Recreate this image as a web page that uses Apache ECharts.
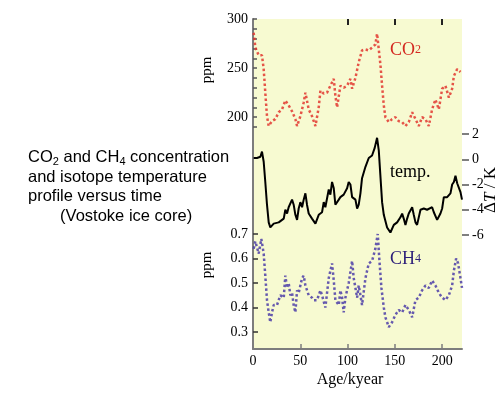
<!DOCTYPE html>
<html>
<head>
<meta charset="utf-8">
<script src="https://cdn.jsdelivr.net/npm/echarts@6/dist/echarts.min.js"></script>
<style>
  html, body { margin: 0; padding: 0; background: #fff; }
  #chart { width: 503px; height: 397px; }
</style>
</head>
<body>
<div id="chart"></div>
<script>
// age (kyear) / value pairs
var co2 = [
  [0.7,286],[2.5,271],[6.0,263],[9.5,263],[11.3,249],[13.0,225],[14.8,201],[16.6,191],[20.1,196],[23.6,198],
  [27.2,205],[30.7,208],[34.2,217],[37.7,212],[41.3,206],[44.8,198],[46.6,191],[50.1,201],[53.6,215],[55.4,225],
  [58.9,208],[62.4,201],[66.0,191],[69.5,210],[71.3,227],[74.8,224],[78.3,225],[81.8,232],[85.4,239],[87.1,222],
  [88.9,210],[92.4,232],[95.9,230],[99.5,232],[103.0,239],[104.8,229],[108.3,240],[111.8,256],[115.3,268],[118.9,269],
  [122.4,268],[125.9,271],[129.4,274],[131.2,285],[133.0,269],[134.7,254],[136.5,232],[138.3,212],[140.0,200],[143.6,195],
  [147.1,198],[150.6,200],[154.1,196],[157.7,195],[161.2,191],[164.7,195],[168.3,205],[171.8,198],[175.3,191],[178.8,200],
  [182.4,198],[185.9,191],[189.4,208],[192.9,218],[196.5,208],[200.0,229],[203.5,232],[207.1,220],[210.6,229],[212.4,242],
  [215.9,249],[219.4,246]
];
var temp = [
  [0.7,0.1],[4.2,0.1],[7.8,0.2],[9.5,0.6],[11.3,-0.2],[13.0,-1.8],[14.8,-3.6],[16.6,-5.0],[18.3,-5.4],[21.9,-5.1],
  [27.2,-5.0],[32.5,-4.7],[34.2,-4.0],[36.0,-4.3],[37.7,-3.8],[39.5,-3.9],[41.3,-3.2],[43.0,-3.6],[44.8,-4.4],[46.6,-4.8],
  [48.3,-3.9],[50.1,-3.4],[51.9,-3.8],[53.6,-3.2],[55.4,-2.7],[57.1,-3.6],[58.9,-4.3],[62.4,-4.7],[66.0,-5.1],[67.7,-5.2],
  [69.5,-4.4],[73.0,-4.2],[74.8,-3.4],[76.5,-3.8],[80.1,-2.4],[81.8,-2.8],[83.6,-1.8],[85.4,-2.3],[87.1,-3.6],[90.7,-3.2],
  [92.4,-3.0],[95.9,-2.8],[99.5,-2.3],[101.2,-1.8],[103.0,-2.0],[104.8,-3.0],[106.5,-3.1],[108.3,-3.2],[110.1,-3.9],[111.8,-3.6],
  [113.6,-2.7],[115.3,-1.5],[118.9,-0.6],[122.4,0.1],[125.9,0.3],[128.7,0.9],[131.2,1.7],[133.0,0.7],[134.7,-1.3],[136.5,-3.4],
  [138.3,-4.4],[141.8,-5.4],[145.3,-5.8],[148.9,-5.2],[152.4,-5.0],[155.9,-4.6],[157.7,-4.3],[159.4,-4.7],[161.2,-5.2],[163.0,-4.7],
  [164.7,-4.3],[168.3,-3.8],[170.0,-4.4],[171.8,-5.0],[173.5,-5.2],[177.1,-4.0],[180.6,-3.9],[184.1,-4.0],[189.4,-3.8],[191.2,-4.2],
  [194.7,-4.8],[198.2,-4.3],[200.0,-3.9],[201.8,-3.0],[205.3,-3.0],[208.8,-2.7],[210.6,-2.0],[212.4,-1.8],[214.1,-1.3],[215.9,-1.9],
  [219.4,-2.6],[221,-3.2]
];
var ch4 = [
  [0.7,0.64],[2.5,0.67],[6.0,0.62],[8.8,0.68],[11.3,0.62],[13.0,0.53],[14.8,0.43],[16.6,0.38],[18.3,0.34],[20.1,0.38],
  [21.9,0.41],[25.4,0.41],[28.9,0.45],[32.5,0.44],[34.2,0.53],[36.0,0.48],[37.7,0.50],[39.5,0.45],[41.3,0.46],[43.0,0.41],
  [44.8,0.38],[46.6,0.47],[48.3,0.46],[51.9,0.52],[53.6,0.53],[55.4,0.49],[58.9,0.45],[62.4,0.44],[64.2,0.43],[67.7,0.43],
  [71.3,0.47],[73.0,0.45],[76.5,0.40],[80.1,0.52],[83.6,0.58],[85.4,0.51],[87.1,0.43],[90.7,0.41],[92.4,0.47],[94.2,0.44],
  [95.9,0.38],[97.7,0.44],[101.2,0.50],[104.8,0.59],[106.5,0.52],[110.1,0.44],[111.8,0.49],[113.6,0.45],[115.3,0.41],[118.9,0.52],
  [122.4,0.58],[125.9,0.59],[129.4,0.64],[131.9,0.70],[133.7,0.59],[135.8,0.48],[138.3,0.40],[140.0,0.36],[143.6,0.32],[147.1,0.34],
  [150.6,0.37],[154.1,0.39],[157.7,0.38],[161.2,0.41],[164.7,0.39],[168.3,0.36],[171.8,0.43],[175.3,0.44],[178.8,0.47],[182.4,0.49],
  [185.9,0.48],[189.4,0.51],[192.9,0.49],[196.5,0.46],[200.0,0.44],[203.5,0.43],[207.1,0.45],[210.6,0.49],[212.4,0.55],[214.8,0.60],
  [216.9,0.58],[219.4,0.52],[221,0.48]
];
var ageTicks = [0, 50, 100, 150, 200];
var co2Labels = [200, 250, 300];

var serif = "'Liberation Serif', 'DejaVu Serif', serif";
var sans = "'Liberation Sans', Arial, sans-serif";
var axisGray = "#7d7d7d";
// invisible axis line, kept so ticks still draw; never snapped onto zero
var noLine = { show: true, onZero: false, lineStyle: { color: "rgba(0,0,0,0)" } };

var myChart = echarts.init(document.getElementById("chart"));

function hiddenX(gi) {
  return { gridIndex: gi, type: "value", min: 0, max: 221, show: false };
}

myChart.setOption({
  animation: false,
  backgroundColor: "#fff",
  grid: [
    { left: 253, top: 19, width: 209, height: 330, show: true, backgroundColor: "#f7fad1", borderWidth: 0 },
    { left: 253, top: 19, width: 209, height: 108 },
    { left: 253, top: 134, width: 209, height: 101 },
    { left: 253, top: 234, width: 209, height: 98 }
  ],
  xAxis: [
    {
      gridIndex: 0, type: "value", min: 0, max: 221, position: "bottom",
      axisLine: { onZero: false, lineStyle: { color: axisGray, width: 2 } },
      axisTick: { inside: true, length: 5, customValues: [50, 100, 150, 200], lineStyle: { color: axisGray, width: 1.5 } },
      axisLabel: { customValues: ageTicks, margin: 5, color: "#000", fontFamily: serif, fontSize: 14 },
      splitLine: { show: false }
    },
    {
      gridIndex: 0, type: "value", min: 0, max: 221, position: "top",
      axisLine: noLine,
      axisTick: { inside: true, length: 6, customValues: [100, 150, 200], lineStyle: { color: "#222", width: 2 } },
      axisLabel: { show: false },
      splitLine: { show: false }
    },
    hiddenX(1), hiddenX(2), hiddenX(3)
  ],
  yAxis: [
    {
      gridIndex: 0, type: "value", min: 0, max: 1,
      axisLine: { show: true, onZero: false, lineStyle: { color: axisGray, width: 2 } },
      axisTick: { show: false }, axisLabel: { show: false }, splitLine: { show: false }
    },
    {
      // CO2
      gridIndex: 1, type: "value", min: 190, max: 300, interval: 10,
      axisLine: noLine,
      axisTick: { show: true, inside: true, length: 4, lineStyle: { color: "#555", width: 1.5 } },
      axisLabel: {
        margin: 5, color: "#000", fontFamily: serif, fontSize: 14,
        formatter: function (v) { return co2Labels.indexOf(v) >= 0 ? String(v) : ""; }
      },
      splitLine: { show: false }
    },
    {
      // temperature
      gridIndex: 2, type: "value", min: -6, max: 2, interval: 2, position: "right",
      axisLine: noLine,
      axisTick: { show: true, length: 7, lineStyle: { color: "#555", width: 1.5 } },
      axisLabel: { margin: 10, color: "#000", fontFamily: serif, fontSize: 14 },
      splitLine: { show: false }
    },
    {
      // CH4
      gridIndex: 3, type: "value", min: 0.3, max: 0.7, interval: 0.1,
      axisLine: noLine,
      axisTick: { show: true, inside: true, length: 5, lineStyle: { color: "#333", width: 1.5 } },
      axisLabel: { margin: 5, color: "#000", fontFamily: serif, fontSize: 14, formatter: function (v) { return v.toFixed(1); } },
      splitLine: { show: false }
    }
  ],
  series: [
    {
      name: "CO2", type: "line", xAxisIndex: 2, yAxisIndex: 1, data: co2,
      symbol: "none", clip: false,
      lineStyle: { color: "#e2362f", width: 2.5, type: "dotted", opacity: 0.85 }
    },
    {
      name: "temp", type: "line", xAxisIndex: 3, yAxisIndex: 2, data: temp,
      symbol: "none", clip: false,
      lineStyle: { color: "#000", width: 2 }
    },
    {
      name: "CH4", type: "line", xAxisIndex: 4, yAxisIndex: 3, data: ch4,
      symbol: "none", clip: false,
      lineStyle: { color: "#4b3ca8", width: 2.5, type: "dotted", opacity: 0.85 }
    }
  ],
  graphic: [
    {
      type: "text", left: 28, top: 149,
      style: {
        text: "{n|CO}{s|2}{n| and CH}{s|4}{n| concentration}\n{n|and isotope temperature}\n{n|profile versus time}\n{n|       (Vostoke ice core)}",
        fill: "#000",
        rich: {
          n: { fontFamily: sans, fontSize: 16.5, lineHeight: 19.5 },
          s: { fontFamily: sans, fontSize: 11, lineHeight: 11, verticalAlign: "bottom" }
        }
      }
    },
    {
      type: "text", x: 390, y: 59,
      style: {
        text: "{n|CO}{s|2}", fill: "#d42a22", textVerticalAlign: "bottom",
        rich: { n: { fontFamily: serif, fontSize: 18, fill: "#d42a22" }, s: { fontFamily: serif, fontSize: 12, fill: "#d42a22" } }
      }
    },
    {
      type: "text", x: 390, y: 172,
      style: { text: "temp.", font: "18px " + serif, fill: "#000", textVerticalAlign: "middle" }
    },
    {
      type: "text", x: 390, y: 268,
      style: {
        text: "{n|CH}{s|4}", fill: "#2d1f7a", textVerticalAlign: "bottom",
        rich: { n: { fontFamily: serif, fontSize: 18, fill: "#2d1f7a" }, s: { fontFamily: serif, fontSize: 12, fill: "#2d1f7a" } }
      }
    },
    {
      type: "text", x: 207, y: 70, rotation: Math.PI / 2,
      style: { text: "ppm", font: "15px " + serif, fill: "#000", textAlign: "center", textVerticalAlign: "middle" }
    },
    {
      type: "text", x: 207, y: 265, rotation: Math.PI / 2,
      style: { text: "ppm", font: "15px " + serif, fill: "#000", textAlign: "center", textVerticalAlign: "middle" }
    },
    {
      type: "text", x: 491, y: 190, rotation: Math.PI / 2,
      style: {
        text: "{n|Δ}{i|T}{n| / K}", fill: "#000", textAlign: "center", textVerticalAlign: "middle",
        rich: { n: { fontFamily: serif, fontSize: 17 }, i: { fontFamily: serif, fontSize: 17, fontStyle: "italic" } }
      }
    },
    {
      type: "text", x: 350, y: 380,
      style: { text: "Age/kyear", font: "16px " + serif, fill: "#000", textAlign: "center", textVerticalAlign: "middle" }
    }
  ]
});
</script>
</body>
</html>
